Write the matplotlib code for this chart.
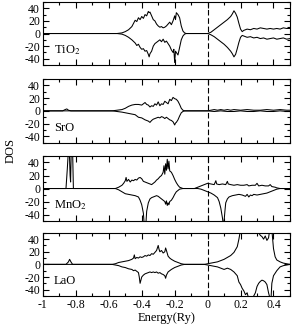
import matplotlib
matplotlib.use("Agg")
import matplotlib.pyplot as plt
from matplotlib.ticker import MultipleLocator

plt.rcParams["font.family"] = ["Liberation Serif", "DejaVu Serif"]
plt.rcParams["mathtext.fontset"] = "stix"

# (energy [Ry], DOS) pairs, spin up / spin down
tio2_up = [(-1, 0), (-0.55, 0), (-0.52, 1), (-0.5, 3), (-0.48, 6), (-0.46, 11), (-0.45, 16), (-0.44, 21),
           (-0.43, 19), (-0.42, 25), (-0.41, 22), (-0.40, 27), (-0.39, 24), (-0.38, 30), (-0.37, 28),
           (-0.36, 35), (-0.355, 33), (-0.35, 34), (-0.34, 28), (-0.33, 22), (-0.32, 20), (-0.31, 15),
           (-0.30, 12), (-0.29, 10), (-0.28, 11), (-0.27, 9), (-0.26, 10), (-0.25, 12), (-0.24, 15),
           (-0.23, 18), (-0.22, 14), (-0.21, 20), (-0.20, 28), (-0.195, 22), (-0.19, 33), (-0.18, 30),
           (-0.17, 25), (-0.16, 12), (-0.15, 4), (-0.14, 1), (-0.13, 0), (0, 0), (0.02, 2), (0.04, 6),
           (0.06, 10), (0.08, 14), (0.10, 18), (0.12, 22), (0.14, 27), (0.15, 31), (0.16, 36), (0.17, 32),
           (0.18, 26), (0.19, 16), (0.20, 7), (0.21, 3), (0.22, 5), (0.24, 7), (0.26, 6), (0.28, 8),
           (0.30, 7), (0.32, 9), (0.34, 8), (0.36, 7), (0.38, 8), (0.40, 7), (0.42, 8), (0.44, 7),
           (0.46, 9), (0.48, 8), (0.5, 8)]
tio2_dn = [(-1, 0), (-0.55, 0), (-0.52, -1), (-0.5, -3), (-0.48, -6), (-0.46, -10), (-0.44, -15),
           (-0.43, -19), (-0.42, -17), (-0.41, -22), (-0.40, -25), (-0.39, -24), (-0.38, -28),
           (-0.37, -27), (-0.36, -33), (-0.355, -37), (-0.35, -32), (-0.34, -28), (-0.33, -20),
           (-0.32, -16), (-0.31, -14), (-0.30, -12), (-0.29, -10), (-0.28, -13), (-0.27, -9),
           (-0.26, -14), (-0.25, -12), (-0.24, -16), (-0.23, -20), (-0.22, -26), (-0.21, -30),
           (-0.205, -25), (-0.20, -46), (-0.195, -28), (-0.19, -30), (-0.18, -34), (-0.17, -22),
           (-0.16, -10), (-0.15, -4), (-0.14, -1), (-0.13, 0), (0, 0), (0.02, -2), (0.04, -5),
           (0.06, -9), (0.08, -13), (0.10, -17), (0.12, -22), (0.14, -28), (0.15, -32), (0.16, -37),
           (0.17, -33), (0.18, -24), (0.19, -14), (0.20, -6), (0.21, -3), (0.22, -4), (0.24, -6),
           (0.26, -5), (0.28, -7), (0.30, -6), (0.32, -8), (0.34, -7), (0.36, -9), (0.38, -8),
           (0.40, -7), (0.42, -9), (0.44, -8), (0.46, -7), (0.48, -9), (0.5, -8)]

sro_up = [(-1, 0), (-0.88, 0), (-0.865, 2), (-0.855, 3), (-0.845, 1), (-0.83, 0), (-0.58, 0), (-0.55, 1),
          (-0.52, 2), (-0.50, 4), (-0.48, 7), (-0.46, 9), (-0.44, 10), (-0.42, 10), (-0.40, 9),
          (-0.39, 11), (-0.38, 13), (-0.37, 10), (-0.36, 9), (-0.35, 6), (-0.34, 8), (-0.33, 7),
          (-0.32, 11), (-0.31, 9), (-0.30, 14), (-0.29, 8), (-0.28, 11), (-0.27, 10), (-0.26, 15),
          (-0.25, 13), (-0.24, 11), (-0.23, 18), (-0.22, 16), (-0.21, 21), (-0.20, 19), (-0.19, 18),
          (-0.18, 15), (-0.17, 10), (-0.16, 4), (-0.15, 1), (-0.14, 0), (0, 0), (0.02, 1), (0.04, 2),
          (0.06, 1), (0.08, 2), (0.10, 1), (0.12, 2), (0.14, 1), (0.16, 2), (0.20, 1), (0.24, 2),
          (0.28, 1), (0.32, 1), (0.36, 2), (0.40, 1), (0.44, 2), (0.48, 1), (0.5, 1)]
sro_dn = [(-1, 0), (-0.58, 0), (-0.55, -1), (-0.52, -2), (-0.50, -3), (-0.48, -4), (-0.46, -5),
          (-0.44, -6), (-0.43, -8), (-0.42, -10), (-0.40, -11), (-0.38, -14), (-0.36, -16),
          (-0.35, -18), (-0.34, -15), (-0.33, -13), (-0.32, -12), (-0.31, -11), (-0.30, -10),
          (-0.29, -11), (-0.28, -9), (-0.27, -10), (-0.26, -12), (-0.25, -10), (-0.24, -12),
          (-0.23, -14), (-0.22, -15), (-0.21, -17), (-0.20, -22), (-0.195, -19), (-0.19, -18),
          (-0.18, -14), (-0.17, -8), (-0.16, -3), (-0.15, -1), (-0.14, 0), (0, 0), (0.04, -1),
          (0.08, 0), (0.12, -1), (0.16, -1), (0.20, 0), (0.24, -1), (0.28, -1), (0.32, 0),
          (0.36, -1), (0.40, -1), (0.44, 0), (0.48, -1), (0.5, -1)]

mno2_up = [(-1, 0), (-0.86, 0), (-0.852, 30), (-0.845, 60), (-0.84, 60), (-0.835, 20), (-0.832, 10),
           (-0.828, 60), (-0.82, 60), (-0.815, 0), (-0.56, 0), (-0.54, 2), (-0.52, 5), (-0.51, 8),
           (-0.50, 12), (-0.495, 17), (-0.49, 11), (-0.48, 14), (-0.47, 10), (-0.46, 13), (-0.45, 12),
           (-0.44, 14), (-0.43, 13), (-0.42, 16), (-0.41, 17), (-0.40, 15), (-0.39, 11), (-0.38, 10),
           (-0.37, 9), (-0.36, 8), (-0.35, 7), (-0.34, 6), (-0.33, 8), (-0.32, 10), (-0.31, 13),
           (-0.30, 15), (-0.29, 18), (-0.28, 20), (-0.27, 25), (-0.265, 35), (-0.26, 22), (-0.255, 38),
           (-0.25, 28), (-0.245, 45), (-0.24, 30), (-0.235, 42), (-0.23, 27), (-0.22, 25), (-0.21, 20),
           (-0.20, 14), (-0.19, 9), (-0.18, 5), (-0.17, 2), (-0.16, 1), (-0.15, 0), (-0.08, 0),
           (-0.06, 2), (-0.04, 4), (-0.02, 6), (0, 8), (0.02, 7), (0.04, 6), (0.05, 12), (0.055, 7),
           (0.07, 6), (0.09, 7), (0.11, 6), (0.12, 11), (0.125, 7), (0.14, 6), (0.16, 5), (0.18, 6),
           (0.20, 5), (0.22, 5), (0.24, 6), (0.25, 4), (0.27, 5), (0.29, 5), (0.30, 8), (0.31, 4),
           (0.33, 5), (0.35, 4), (0.37, 4), (0.38, 6), (0.39, 3), (0.41, 2), (0.42, 1), (0.44, 0),
           (0.5, 0)]
mno2_dn = [(-1, 0), (-0.56, 0), (-0.54, -2), (-0.52, -5), (-0.50, -8), (-0.48, -9), (-0.46, -10),
           (-0.44, -11), (-0.42, -13), (-0.41, -18), (-0.40, -25), (-0.39, -38), (-0.385, -55),
           (-0.375, -55), (-0.37, -35), (-0.36, -22), (-0.35, -16), (-0.34, -14), (-0.33, -13),
           (-0.32, -12), (-0.31, -11), (-0.30, -12), (-0.29, -14), (-0.28, -16), (-0.27, -18),
           (-0.26, -20), (-0.255, -24), (-0.25, -19), (-0.245, -26), (-0.24, -22), (-0.235, -25),
           (-0.23, -20), (-0.22, -18), (-0.21, -14), (-0.20, -9), (-0.19, -5), (-0.18, -3),
           (-0.17, -1), (-0.15, 0), (-0.06, 0), (-0.04, -1), (-0.02, -3), (0, -5), (0.02, -7),
           (0.04, -10), (0.06, -14), (0.07, -20), (0.08, -30), (0.09, -45), (0.095, -55), (0.10, -50),
           (0.105, -35), (0.11, -22), (0.12, -16), (0.13, -13), (0.15, -11), (0.17, -10), (0.19, -9),
           (0.21, -10), (0.23, -12), (0.24, -9), (0.25, -13), (0.26, -10), (0.27, -11), (0.28, -9),
           (0.30, -10), (0.32, -9), (0.34, -8), (0.36, -7), (0.38, -5), (0.40, -3), (0.42, -1),
           (0.44, 0), (0.5, 0)]

lao_up = [(-1, 0), (-0.86, 0), (-0.845, 4), (-0.838, 8), (-0.83, 4), (-0.82, 0), (-0.58, 0), (-0.56, 1),
          (-0.54, 3), (-0.52, 4), (-0.50, 5), (-0.48, 6), (-0.46, 8), (-0.45, 10), (-0.445, 15),
          (-0.44, 9), (-0.43, 11), (-0.42, 10), (-0.41, 12), (-0.40, 11), (-0.39, 12), (-0.38, 14),
          (-0.37, 13), (-0.36, 15), (-0.35, 14), (-0.34, 17), (-0.33, 16), (-0.32, 19), (-0.31, 22),
          (-0.30, 30), (-0.295, 24), (-0.29, 20), (-0.28, 22), (-0.27, 18), (-0.26, 20), (-0.255, 26),
          (-0.25, 22), (-0.24, 13), (-0.23, 10), (-0.22, 8), (-0.20, 5), (-0.18, 3), (-0.16, 1),
          (-0.14, 0), (-0.02, 0), (0, 1), (0.02, 2), (0.04, 3), (0.06, 4), (0.08, 6), (0.10, 8),
          (0.12, 11), (0.14, 14), (0.16, 19), (0.18, 28), (0.19, 40), (0.20, 55), (0.22, 60),
          (0.24, 55), (0.25, 60), (0.27, 55), (0.29, 60), (0.31, 50), (0.32, 46), (0.33, 44),
          (0.34, 40), (0.35, 45), (0.36, 38), (0.37, 42), (0.38, 60), (0.39, 55), (0.40, 25),
          (0.41, 12), (0.42, 7), (0.44, 4), (0.46, 2), (0.48, 1), (0.5, 0)]
lao_dn = [(-1, 0), (-0.58, 0), (-0.56, -1), (-0.54, -2), (-0.52, -4), (-0.50, -5), (-0.48, -7),
          (-0.46, -8), (-0.45, -10), (-0.44, -9), (-0.43, -11), (-0.42, -13), (-0.415, -20),
          (-0.41, -30), (-0.405, -25), (-0.40, -20), (-0.39, -17), (-0.38, -15), (-0.37, -14),
          (-0.36, -13), (-0.35, -12), (-0.34, -13), (-0.33, -12), (-0.32, -13), (-0.31, -12),
          (-0.30, -14), (-0.29, -13), (-0.28, -15), (-0.27, -16), (-0.26, -18), (-0.255, -22),
          (-0.25, -17), (-0.24, -12), (-0.22, -8), (-0.20, -5), (-0.18, -3), (-0.16, -1), (-0.14, 0),
          (-0.02, 0), (0, -1), (0.02, -2), (0.04, -3), (0.06, -4), (0.08, -6), (0.10, -8), (0.11, -7),
          (0.12, -6), (0.14, -8), (0.16, -12), (0.18, -18), (0.19, -28), (0.20, -32), (0.21, -38),
          (0.22, -42), (0.23, -48), (0.24, -45), (0.25, -55), (0.27, -55), (0.29, -45), (0.30, -35),
          (0.31, -30), (0.32, -27), (0.33, -25), (0.34, -26), (0.35, -28), (0.36, -32), (0.37, -45),
          (0.38, -55), (0.385, -55), (0.39, -30), (0.40, -18), (0.42, -10), (0.44, -4), (0.46, -2),
          (0.48, -1), (0.5, 0)]

labels = ["TiO$_2$", "SrO", "MnO$_2$", "LaO"]
curves = [(tio2_up, tio2_dn), (sro_up, sro_dn), (mno2_up, mno2_dn), (lao_up, lao_dn)]

# panel boxes in figure fractions: left, bottom, width, height
boxes = [(0.147, 0.801, 0.846, 0.193),
         (0.147, 0.563, 0.846, 0.196),
         (0.147, 0.324, 0.846, 0.199),
         (0.147, 0.095, 0.846, 0.193)]

fig = plt.figure(figsize=(2.92, 3.27), dpi=100)

for i, (box, label, (up, dn)) in enumerate(zip(boxes, labels, curves)):
    ax = fig.add_axes(box)
    for series in (up, dn):
        xs = [p[0] for p in series]
        ys = [p[1] for p in series]
        ax.plot(xs, ys, color="black", lw=0.75)
    ax.axvline(0, color="black", lw=0.8, ls=(0, (5, 2.5)))
    ax.set_xlim(-1, 0.5)
    ax.set_ylim(-50, 50)
    ax.xaxis.set_major_locator(MultipleLocator(0.2))
    ax.xaxis.set_minor_locator(MultipleLocator(0.1))
    ax.yaxis.set_major_locator(MultipleLocator(20))
    ax.yaxis.set_minor_locator(MultipleLocator(10))
    ax.tick_params(which="both", direction="in", top=True, right=True, labelsize=8.5, pad=2)
    ax.tick_params(which="major", length=4, width=0.8)
    ax.tick_params(which="minor", length=2.5, width=0.8)
    for s in ax.spines.values():
        s.set_linewidth(0.8)
    ax.text(0.045, 0.24, label, transform=ax.transAxes, fontsize=9, va="center", ha="left")
    if i < 3:
        ax.set_xticklabels([])
    else:
        ax.set_xticks([-1, -0.8, -0.6, -0.4, -0.2, 0, 0.2, 0.4])
        ax.set_xticklabels(["-1", "-0.8", "-0.6", "-0.4", "-0.2", "0", "0.2", "0.4"])
        ax.set_xlabel("Energy(Ry)", fontsize=9, labelpad=1)
    ax.set_yticks([-40, -20, 0, 20, 40])
    ax.set_yticklabels(["-40", "-20", "0", "20", "40"])

fig.text(0.035, 0.54, "DOS", rotation=90, fontsize=9, ha="center", va="center")

fig.savefig("out.png", dpi=100)
